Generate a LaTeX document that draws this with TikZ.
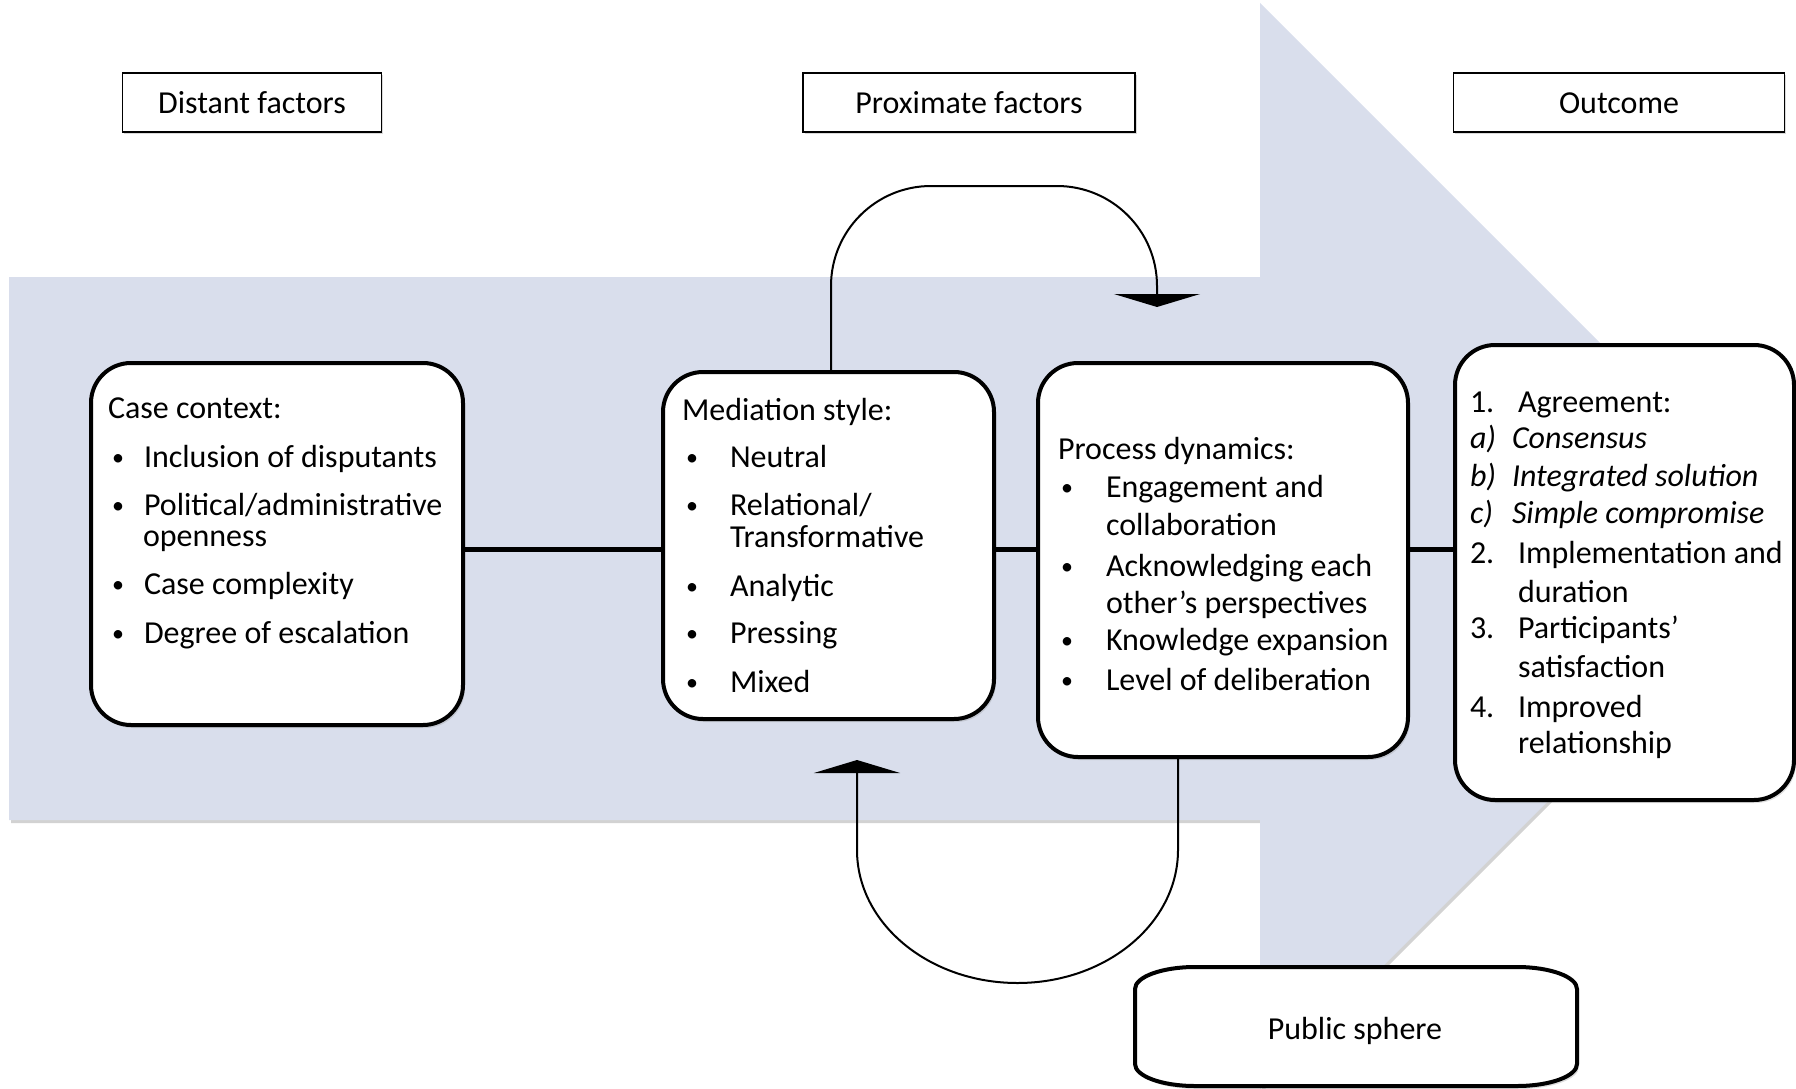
\documentclass[tikz,border=0pt]{standalone}
\usepackage{fontspec}
\setmainfont{Carlito}
\usetikzlibrary{arrows.meta,shadows}
\definecolor{arrowfill}{RGB}{217,222,236}
\newcommand\txtline[4]{\node[txt] (#1) at (#2) {#3#4};}
\newcommand\smallbullet{\raisebox{2pt}{\fontsize{24}{24}\selectfont •}}
\begin{document}
\begin{tikzpicture}[x=1pt,y=-1pt,
  every node/.style={font=\fontsize{32}{38}\selectfont},
  bigbox/.style={draw, line width=4pt, rounded corners=40pt, fill=white, inner sep=0pt,
     drop shadow={shadow xshift=2pt, shadow yshift=-3pt, opacity=0.25}},
  hdr/.style={draw, line width=1.5pt, fill=white, inner sep=0pt, minimum height=59pt,
     drop shadow={shadow xshift=1.5pt, shadow yshift=-2pt, opacity=0.3}},
  hdrtxt/.style={anchor=base, inner sep=0pt},
  txt/.style={anchor=base west, inner sep=0pt, outer sep=0pt},
  conn/.style={line width=5pt},
  fb/.style={line width=2pt, -{Triangle[width=86pt,length=13pt]}},
]
\useasboundingbox (0,0) rectangle (1796,1089);
\clip (0,0) rectangle (1796,1089);

% big background arrow
\fill[black!35, opacity=0.5] (11,280) -- (1262,280) -- (1262,6) -- (1805,549) -- (1262,1092) -- (1262,823) -- (11,823) -- cycle;
\fill[arrowfill] (9,277) -- (1260,277) -- (1260,3) -- (1803,546) -- (1260,1089) -- (1260,820) -- (9,820) -- cycle;

% header boxes
\node[hdr, minimum width=259pt] (distant) at (252,102.5) {};
\node[hdrtxt] (distanttxt) at (252,114) {Distant factors};
\node[hdr, minimum width=332pt] (proximate) at (969,102.5) {};
\node[hdrtxt] (proximatetxt) at (969,114) {Proximate factors};
\node[hdr, minimum width=331pt] (outcomehdr) at (1619,102.5) {};
\node[hdrtxt] (outcomehdrtxt) at (1619,114) {Outcome};

% main boxes
\node[bigbox, minimum width=372pt, minimum height=362pt] (casebox) at (277,544) {};
\node[bigbox, minimum width=331pt, minimum height=347pt] (medbox) at (828.5,545.5) {};
\node[bigbox, minimum width=370pt, minimum height=394pt] (procbox) at (1223,560) {};
\node[bigbox, minimum width=339pt, minimum height=455pt] (outbox) at (1624.5,572.5) {};

% public sphere box
\fill[black!40, opacity=0.35, xshift=2pt, yshift=-3pt] (1195,967) -- (1517,967) arc[start angle=-90,end angle=0,x radius=60,y radius=22] -- (1577,1064) arc[start angle=0,end angle=90,x radius=60,y radius=22] -- (1195,1086) arc[start angle=90,end angle=180,x radius=60,y radius=22] -- (1135,989) arc[start angle=180,end angle=270,x radius=60,y radius=22] -- cycle;
\draw[line width=4pt, fill=white] (1195,967) -- (1517,967) arc[start angle=-90,end angle=0,x radius=60,y radius=22] -- (1577,1064) arc[start angle=0,end angle=90,x radius=60,y radius=22] -- (1195,1086) arc[start angle=90,end angle=180,x radius=60,y radius=22] -- (1135,989) arc[start angle=180,end angle=270,x radius=60,y radius=22] -- cycle;
\node[anchor=base, inner sep=0pt] (public) at (1355,1039) {Public sphere};

% connectors
\coordinate (row) at (0,549);
\draw[conn] (casebox.east |- row) -- (medbox.west |- row);
\draw[conn] (medbox.east |- row) -- (procbox.west |- row);
\draw[conn] (procbox.east |- row) -- (outbox.west |- row);

% feedback loops
\coordinate (tA) at (831,0);
\coordinate (tTip) at (1157,307);
\draw[fb, rounded corners=100pt] (medbox.north -| tA) -- (831,186) -- (1157,186) -- (tTip);
\coordinate (bA) at (1178,0);
\coordinate (bTip) at (857,760);
\draw[fb] (procbox.south -| bA) -- (1178,850) arc[start angle=0,end angle=180,x radius=160.5,y radius=133] -- (bTip);

% case context text
\txtline{c0}{108,418}{}{Case context:}
\txtline{cb1}{112,467}{}{\smallbullet}
\txtline{c1}{144,467}{}{Inclusion of disputants}
\txtline{cb2}{112,515}{}{\smallbullet}
\txtline{c2}{144,515}{}{Political/administrative}
\txtline{c2b}{143,546}{}{openness}
\txtline{cb3}{112,594}{}{\smallbullet}
\txtline{c3}{144,594}{}{Case complexity}
\txtline{cb4}{112,643}{}{\smallbullet}
\txtline{c4}{144,643}{}{Degree of escalation}

% mediation style text
\txtline{m0}{682,420}{}{Mediation style:}
\txtline{mb1}{686,467}{}{\smallbullet}
\txtline{m1}{730,467}{}{Neutral}
\txtline{mb2}{686,515}{}{\smallbullet}
\txtline{m2}{730,515}{}{Relational/}
\txtline{m2b}{730,547}{}{Transformative}
\txtline{mb3}{686,596}{}{\smallbullet}
\txtline{m3}{730,596}{}{Analytic}
\txtline{mb4}{686,643}{}{\smallbullet}
\txtline{m4}{730,643}{}{Pressing}
\txtline{mb5}{686,692}{}{\smallbullet}
\txtline{m5}{730,692}{}{Mixed}

% process dynamics text
\txtline{p0}{1058,459}{}{Process dynamics:}
\txtline{pb1}{1061,497}{}{\smallbullet}
\txtline{p1}{1106,497}{}{Engagement and}
\txtline{p1b}{1106,535}{}{collaboration}
\txtline{pb2}{1061,576}{}{\smallbullet}
\txtline{p2}{1106,576}{}{Acknowledging each}
\txtline{p2b}{1106,613}{}{other’s perspectives}
\txtline{pb3}{1061,650}{}{\smallbullet}
\txtline{p3}{1106,650}{}{Knowledge expansion}
\txtline{pb4}{1061,690}{}{\smallbullet}
\txtline{p4}{1106,690}{}{Level of deliberation}

% outcome text
\txtline{on1}{1470,412}{}{1.}
\txtline{o1}{1518,412}{}{Agreement:}
\txtline{ona}{1470,448}{\itshape}{a)}
\txtline{oa}{1512,448}{\itshape}{Consensus}
\txtline{onb}{1470,486}{\itshape}{b)}
\txtline{ob}{1512,486}{\itshape}{Integrated solution}
\txtline{onc}{1470,523}{\itshape}{c)}
\txtline{oc}{1512,523}{\itshape}{Simple compromise}
\txtline{on2}{1470,563}{}{2.}
\txtline{o2}{1518,563}{}{Implementation and}
\txtline{o2b}{1518,602}{}{duration}
\txtline{on3}{1470,638}{}{3.}
\txtline{o3}{1518,638}{}{Participants’}
\txtline{o3b}{1518,677}{}{satisfaction}
\txtline{on4}{1470,717}{}{4.}
\txtline{o4}{1518,717}{}{Improved}
\txtline{o4b}{1518,753}{}{relationship}
\end{tikzpicture}
\end{document}
